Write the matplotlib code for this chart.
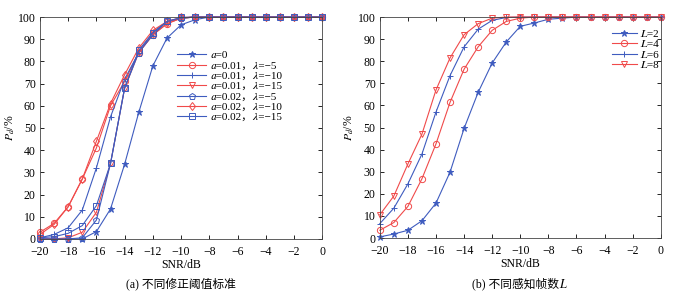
import matplotlib
matplotlib.use("Agg")
import matplotlib.pyplot as plt

plt.rcParams["font.family"] = ["Liberation Serif", "STIXGeneral", "Noto Sans CJK SC"]
plt.rcParams["mathtext.fontset"] = "stix"
plt.rcParams["font.size"] = 8

BLUE = "#3f5cbf"
RED = "#f04a4a"

# ── data ───────────────────────────────────────────────────────────────────────
snr = list(range(-20, 1))

# (a) different corrected threshold criteria  (𝑎, 𝜆 = math italic letters)
a_labels = [
    "𝑎=0",
    "𝑎=0.01，𝜆=−5",
    "𝑎=0.01，𝜆=−10",
    "𝑎=0.01，𝜆=−15",
    "𝑎=0.02，𝜆=−5",
    "𝑎=0.02，𝜆=−10",
    "𝑎=0.02，𝜆=−15",
]
a0 = [0, 0, 0, 0, 3.3, 13.5, 33.7, 57, 78, 90.5, 96.5, 98.8] + [100] * 9
a001_l5 = [3, 7, 14.5, 27, 41, 60, 71, 84, 92, 97, 99.5, 100] + [100] * 9
a001_l10 = [0.5, 2, 5, 13, 32, 55, 72, 84, 93, 98, 99.5, 100] + [100] * 9
a001_l15 = [0, 0, 0.5, 3, 12, 34, 68, 84, 92, 97, 99.5, 100] + [100] * 9
a002_l5 = [0, 0, 0, 0.5, 8.5, 34, 68, 84, 92, 98, 99.5, 100] + [100] * 9
a002_l10 = [2, 6.5, 14.5, 27, 44, 61, 74, 86, 94, 98, 99.8, 100] + [100] * 9
a002_l15 = [0.5, 1, 2.5, 6, 15, 34, 68, 85, 93, 98, 99.8, 100] + [100] * 9
a_series = [a0, a001_l5, a001_l10, a001_l15, a002_l5, a002_l10, a002_l15]
a_styles = [(BLUE, "*"), (RED, "o"), (BLUE, "+"), (RED, "v"),
            (BLUE, "p"), (RED, "d"), (BLUE, "s")]

# (b) different number of sensing frames L
b_labels = ["𝐿=2", "𝐿=4", "𝐿=6", "𝐿=8"]
l2 = [0.5, 1.8, 3.5, 7.8, 15.8, 29.8, 49.6, 65.9, 79.2, 88.7, 95.8, 97.3,
      99, 99.5] + [100] * 7
l4 = [3.5, 7, 14.3, 26.8, 42.6, 61.4, 76.4, 86.5, 94, 98, 99.5, 100] + [100] * 9
l6 = [6.5, 13.5, 24.5, 38, 57, 73.5, 86.5, 94.5, 98.5, 99.8, 100] + [100] * 10
l8 = [10.5, 19, 33.5, 47, 67, 81.5, 92, 97, 99.5, 100] + [100] * 11
b_series = [l2, l4, l6, l8]
b_styles = [(BLUE, "*"), (RED, "o"), (BLUE, "+"), (RED, "v")]


def style_axes(ax):
    ax.set_xlim(-20, 0)
    ax.set_ylim(0, 100)
    ax.set_xticks(range(-20, 1, 2))
    ax.set_xticklabels(["−%d" % -v if v < 0 else "0" for v in range(-20, 1, 2)])
    ax.set_yticks(range(0, 101, 10))
    ax.tick_params(direction="in", top=True, right=True, length=3,
                   width=0.6, labelsize=8.5)
    ax.tick_params(axis="x", pad=5)
    ax.tick_params(axis="y", pad=3)
    for sp in ax.spines.values():
        sp.set_linewidth(0.6)
        sp.set_color("#444444")
    ax.set_xlabel("SNR/dB", fontsize=8.5, labelpad=1)
    ax.set_ylabel(r"$P_d$/%", fontsize=8.5, labelpad=1)


def draw(ax, series, labels, styles):
    for vals, lab, (c, m) in zip(series, labels, styles):
        ax.plot(snr, vals, color=c, marker=m, markersize=4.5, linewidth=0.8,
                markerfacecolor=c if m == "*" else "none",
                markeredgewidth=0.7, label=lab, clip_on=False)
    style_axes(ax)


fig = plt.figure(figsize=(6.77, 2.99), dpi=100)
ax1 = fig.add_axes([0.059, 0.201, 0.417, 0.742])
ax2 = fig.add_axes([0.561, 0.204, 0.415, 0.739])

draw(ax1, a_series, a_labels, a_styles)
ax1.legend(loc="upper left", bbox_to_anchor=(0.47, 0.87), frameon=False,
           fontsize=8, handlelength=2.6, labelspacing=0.05, borderaxespad=0,
           handletextpad=0.4)

draw(ax2, b_series, b_labels, b_styles)
ax2.legend(loc="upper right", bbox_to_anchor=(1.01, 0.965), frameon=False,
           fontsize=8, handlelength=2.3, labelspacing=0.05, borderaxespad=0,
           handletextpad=0.2)

fig.text(0.267, 0.03, "(a) 不同修正阈值标准", ha="center", va="bottom", fontsize=8.5)
fig.text(0.768, 0.03, "(b) 不同感知帧数𝐿", ha="center", va="bottom", fontsize=8.5)

fig.savefig("out.png", dpi=100)
